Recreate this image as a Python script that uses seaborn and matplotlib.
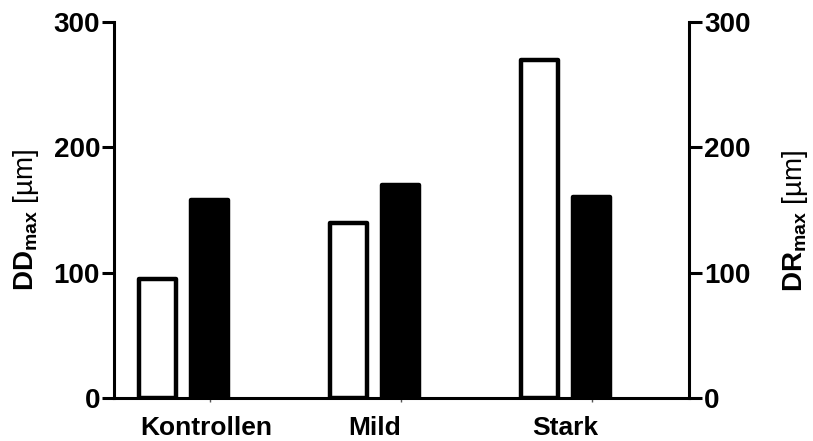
import matplotlib
matplotlib.use("Agg")
import matplotlib.pyplot as plt
import seaborn as sns
import pandas as pd

# Values per group
groups = ["Kontrollen", "Mild", "Stark"]
dd_max = [95, 140, 270]   # DDmax [µm], left axis (open bars)
dr_max = [158, 170, 160]  # DRmax [µm], right axis (filled bars)
y_ticks = [0, 100, 200, 300]

sns.set_theme(style="white")
plt.rcParams["font.family"] = ["Liberation Sans", "DejaVu Sans"]
plt.rcParams["font.weight"] = "bold"
plt.rcParams["mathtext.fontset"] = "custom"
plt.rcParams["mathtext.rm"] = "Liberation Sans"
plt.rcParams["mathtext.bf"] = "Liberation Sans:bold"
for key in ["text.color", "axes.labelcolor", "xtick.color", "ytick.color", "axes.edgecolor"]:
    plt.rcParams[key] = "black"

df = pd.DataFrame({
    "Gruppe": groups * 2,
    "Wert": dd_max + dr_max,
    "Serie": ["DD"] * len(groups) + ["DR"] * len(groups),
})

fig = plt.figure(figsize=(8.13, 4.41), dpi=100)
ax = fig.add_axes([0.1402, 0.0975, 0.7073, 0.8526])

sns.barplot(
    data=df, x="Gruppe", y="Wert", hue="Serie", order=groups,
    hue_order=["DD", "DR"], palette={"DD": "white", "DR": "black"},
    width=0.552, gap=0.30, edgecolor="black", linewidth=3.2,
    legend=False, ax=ax,
)
for p in ax.patches:
    p.set_joinstyle("round")

ax.set_xlim(-0.364, 2.647)
ax.set_ylim(0, 300)
ax.set_yticks(y_ticks)
ax.set_yticklabels([str(t) for t in y_ticks], fontsize=20, fontweight="bold")
ax.set_xlabel("")
ax.set_ylabel(r"$\mathbf{DD_{max}}$ [µm]", fontsize=20, fontweight="normal")
ax.yaxis.set_label_coords(-0.127, 0.473)

# category labels, with small ticks under the filled bars
ax.set_xticks([0.12, 1.0, 2.0])
ax.set_xticklabels(groups, fontsize=19, fontweight="bold")
ax.tick_params(axis="x", length=0, pad=13)
ax.set_xticks([i + 0.138 for i in range(len(groups))], minor=True)
ax.tick_params(axis="x", which="minor", length=3, width=1, color="#555555", bottom=True)
ax.tick_params(axis="y", length=9, width=2.2, color="black", pad=1, left=True)

for side in ["top", "right"]:
    ax.spines[side].set_visible(False)
for side in ["left", "bottom"]:
    ax.spines[side].set_linewidth(2.2)
    ax.spines[side].set_color("black")

# right axis on the same scale for DRmax
ax2 = ax.twinx()
ax2.set_ylim(0, 300)
ax2.set_yticks(y_ticks)
ax2.set_yticklabels([str(t) for t in y_ticks], fontsize=20, fontweight="bold")
ax2.tick_params(axis="y", length=9, width=2.2, color="black", pad=2, right=True)
ax2.set_ylabel(r"$\mathbf{DR_{max}}$ [µm]", fontsize=20, fontweight="normal")
ax2.yaxis.set_label_coords(1.158, 0.47)
for side in ["top", "left", "bottom"]:
    ax2.spines[side].set_visible(False)
ax2.spines["right"].set_linewidth(2.2)
ax2.spines["right"].set_color("black")
ax2.grid(False)
ax.grid(False)

fig.savefig("out.png", dpi=100)
